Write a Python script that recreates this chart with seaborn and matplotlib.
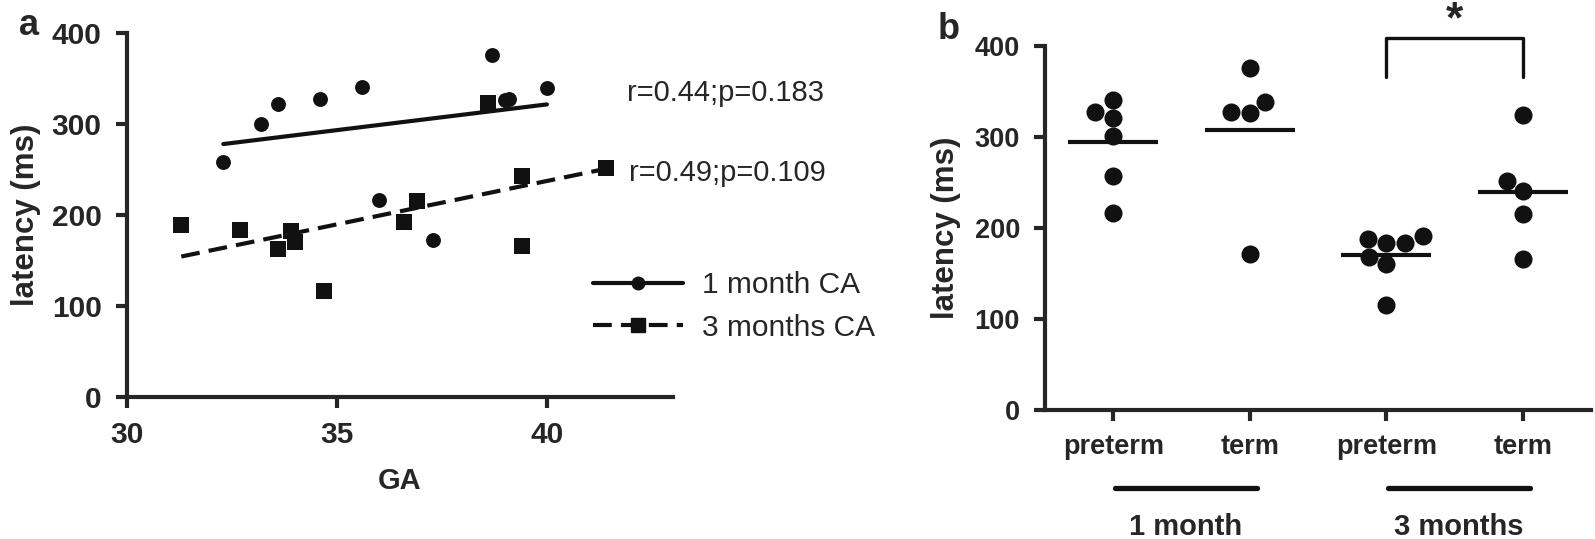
import numpy as np
import pandas as pd
import matplotlib
matplotlib.use("Agg")
import matplotlib.pyplot as plt
import seaborn as sb
from matplotlib.lines import Line2D

# panel a : latency against gestational age
ga_1m = [32.3, 33.2, 33.6, 34.6, 35.6, 36.0, 37.3, 38.7, 39.0, 39.1, 40.0]
lat_1m = [258, 300, 322, 327, 341, 217, 173, 376, 326, 328, 339]
ga_3m = [31.3, 32.7, 33.6, 33.9, 34.0, 34.7, 36.6, 36.9, 38.6, 39.4, 39.4, 41.4]
lat_3m = [189, 184, 163, 182, 170, 116, 192, 215, 323, 243, 166, 252]
stats_1m = "r=0.44;p=0.183"
stats_3m = "r=0.49;p=0.109"

# panel b : latency per group
pre_1m = [217, 257, 301, 321, 327, 341]
term_1m = [172, 326, 328, 338, 376]
pre_3m = [115, 161, 168, 183, 183, 188, 191]
term_3m = [166, 215, 241, 252, 324]
group_keys = ["pre_1m", "term_1m", "pre_3m", "term_3m"]
group_ticks = ["preterm", "term", "preterm", "term"]
age_labels = ["1 month", "3 months"]

sb.set_style("ticks")
plt.rcParams["font.family"] = ["Liberation Sans", "DejaVu Sans"]
plt.rcParams["axes.linewidth"] = 3
plt.rcParams["xtick.major.width"] = 3
plt.rcParams["ytick.major.width"] = 3
plt.rcParams["xtick.major.size"] = 8
plt.rcParams["ytick.major.size"] = 8
plt.rcParams["xtick.major.pad"] = 9.5
plt.rcParams["ytick.major.pad"] = 10

ink = "#111111"
fig = plt.figure(figsize=(15.95, 5.39), dpi=100)

# ---------- panel a
axa = fig.add_axes([0.0794, 0.2635, 0.3425, 0.6753])
sb.regplot(x=ga_1m, y=lat_1m, ci=None, scatter=False, ax=axa,
           line_kws=dict(color=ink, lw=3))
sb.regplot(x=ga_3m, y=lat_3m, ci=None, scatter=False, ax=axa,
           line_kws=dict(color=ink, lw=3, dashes=(4.5, 2.2)))
sb.scatterplot(x=ga_1m, y=lat_1m, marker="o", s=115, color=ink, linewidth=0, ax=axa, zorder=3)
sb.scatterplot(x=ga_3m, y=lat_3m, marker="s", s=145, color=ink, linewidth=0, ax=axa, zorder=3)
axa.set_xlim(30, 43)
axa.set_ylim(0, 400)
axa.set_xticks([30, 35, 40])
axa.set_yticks([0, 100, 200, 300, 400])
for lab in axa.get_xticklabels() + axa.get_yticklabels():
    lab.set_fontweight("bold")
    lab.set_fontsize(21.5)
axa.set_xlabel("GA", fontsize=21, fontweight="bold", labelpad=13)
axa.set_ylabel("latency (ms)", fontsize=22.5, fontweight="bold", labelpad=8)
sb.despine(ax=axa)
axa.text(41.9, 334, stats_1m, fontsize=21, va="center", clip_on=False)
axa.text(41.95, 246, stats_3m, fontsize=21, va="center", clip_on=False)

handles = [Line2D([], [], color=ink, lw=3, marker="o", ms=9),
           Line2D([], [], color=ink, lw=3, marker="s", ms=10, dashes=(4.5, 2.2))]
fig.legend(handles, ["1 month CA", "3 months CA"], loc="upper left",
           bbox_to_anchor=(593 / 1595, 1 - 271 / 539), frameon=False,
           fontsize=21.5, handlelength=3.0, handletextpad=0.65,
           labelspacing=0.49, borderpad=0, borderaxespad=0)

# ---------- panel b
groups = [pre_1m, term_1m, pre_3m, term_3m]
df = pd.DataFrame({
    "group": np.concatenate([[k] * len(v) for k, v in zip(group_keys, groups)]),
    "latency": np.concatenate(groups),
})
axb = fig.add_axes([0.6552, 0.2393, 0.3423, 0.6753])
sb.swarmplot(data=df, x="group", y="latency", order=group_keys, color=ink,
             size=13, linewidth=0, ax=axb)
for i, vals in enumerate(groups):
    axb.hlines(np.mean(vals), i - 0.33, i + 0.33, color=ink, lw=3)
axb.set_xlim(-0.5, 3.5)
axb.set_ylim(0, 400)
axb.set_yticks([0, 100, 200, 300, 400])
axb.set_xticks(range(4))
axb.set_xticklabels(group_ticks)
for lab in axb.get_xticklabels() + axb.get_yticklabels():
    lab.set_fontweight("bold")
    lab.set_fontsize(19.5)
axb.set_xlabel("")
axb.set_ylabel("latency (ms)", fontsize=22.5, fontweight="bold", labelpad=10)
sb.despine(ax=axb)

# age group bars under the tick labels
trans = axb.get_xaxis_transform()
for j, name in enumerate(age_labels):
    axb.plot([2 * j + 0.01, 2 * j + 1.05], [-0.214, -0.214], color=ink, lw=3.8,
             solid_capstyle="round", transform=trans, clip_on=False)
    axb.text(2 * j + 0.53, -0.321, name, transform=trans, ha="center", va="center",
             fontsize=21, fontweight="bold")

# significance bracket
axb.plot([2, 2, 3, 3], [366, 408.5, 408.5, 366], color=ink, lw=2.4, clip_on=False)
axb.text(2.5, 428, "*", ha="center", va="center", fontsize=32, fontweight="bold")

fig.text(0.012, 0.952, "a", fontsize=26, fontweight="bold", va="center")
fig.text(0.588, 0.945, "b", fontsize=26, fontweight="bold", va="center")

fig.savefig("out.png", dpi=100)
